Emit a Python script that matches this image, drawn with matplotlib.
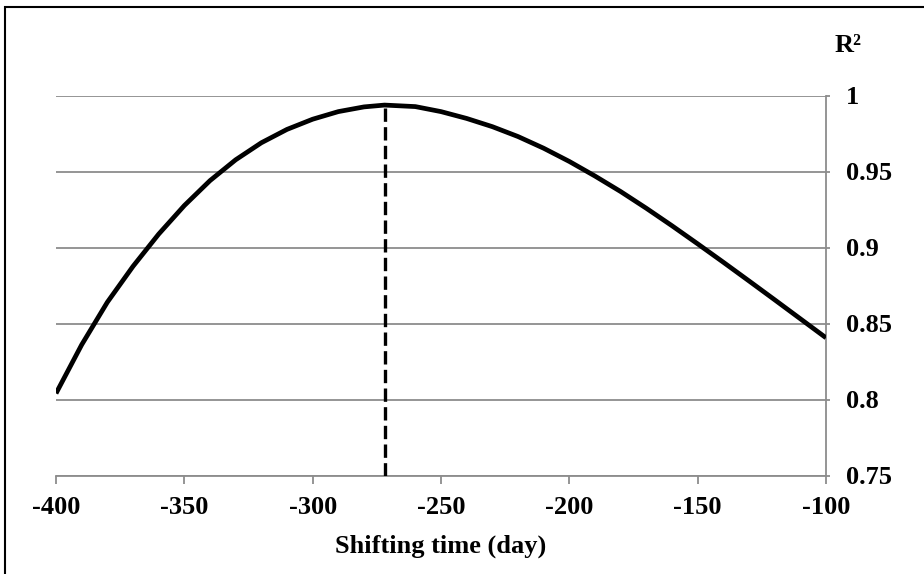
import matplotlib
matplotlib.use('Agg')
import matplotlib.pyplot as plt
import numpy as np
from matplotlib.patches import Rectangle

# R^2 vs shifting time
days = [-400, -390, -380, -370, -360, -350, -340, -330, -320, -310,
        -300, -290, -280, -272, -260, -250, -240, -230, -220, -210,
        -200, -190, -180, -170, -160, -150, -140, -130, -120, -110, -100]
r2 = [0.804, 0.836, 0.864, 0.8876, 0.9088, 0.9276, 0.944, 0.9577, 0.9689, 0.9777,
      0.9844, 0.9894, 0.9925, 0.9937, 0.9927, 0.9894, 0.9849, 0.9795, 0.9730, 0.9653,
      0.9566, 0.9470, 0.9368, 0.9258, 0.9143, 0.9024, 0.8903, 0.8780, 0.8656, 0.8531, 0.8406]

x_ticks = [-400, -350, -300, -250, -200, -150, -100]
y_ticks = [0.75, 0.8, 0.85, 0.9, 0.95, 1.0]
y_ticklabels = ['0.75', '0.8', '0.85', '0.9', '0.95', '1']

plt.rcParams['font.family'] = 'Liberation Serif'
plt.rcParams['font.weight'] = 'bold'

fig = plt.figure(figsize=(9.24, 5.74), dpi=100)
ax = fig.add_axes([56 / 924, 1 - 475.5 / 574, 770 / 924, 380 / 574])

grid_col = '#8c8c8c'

# curve and the dashed line at the maximum
ax.plot(days, r2, color='black', lw=3.4, solid_joinstyle='round',
        solid_capstyle='butt', zorder=3)
i_max = int(np.argmax(r2))
ax.vlines(days[i_max], y_ticks[0], r2[i_max], colors='black', lw=2.4,
          linestyles=(0, (4, 1.6)), zorder=3)

ax.set_xlim(-400, -100)
ax.set_ylim(0.75, 1.0)
ax.set_xticks(x_ticks)
ax.set_xticklabels([str(v) for v in x_ticks])
ax.yaxis.tick_right()
ax.set_yticks(y_ticks)
ax.set_yticklabels(y_ticklabels)

ax.grid(axis='y', color=grid_col, lw=1.3)
ax.set_axisbelow(True)
for side in ['left', 'top']:
    ax.spines[side].set_visible(False)
for side in ['right', 'bottom']:
    ax.spines[side].set_color(grid_col)
    ax.spines[side].set_linewidth(1.3)

ax.tick_params(axis='x', direction='out', length=6, width=1.3, color=grid_col,
               labelsize=19, pad=9)
ax.tick_params(axis='y', direction='out', length=3, width=1.3, color=grid_col,
               labelsize=19, pad=11.5, right=True, left=False)
for lbl in ax.get_xticklabels() + ax.get_yticklabels():
    lbl.set_fontweight('bold')

ax.set_xlabel('Shifting time (day)', fontsize=19, fontweight='bold', labelpad=11)
fig.text(835 / 924, 1 - 45 / 574, 'R²', fontsize=19, fontweight='bold',
         ha='left', va='center')

# outer frame
fig.patches.append(Rectangle((5 / 924, -0.05), 1.0, 1 - 7 / 574 + 0.05,
                             transform=fig.transFigure, fill=False,
                             edgecolor='black', lw=1.5))

fig.savefig('out.png', dpi=100)
